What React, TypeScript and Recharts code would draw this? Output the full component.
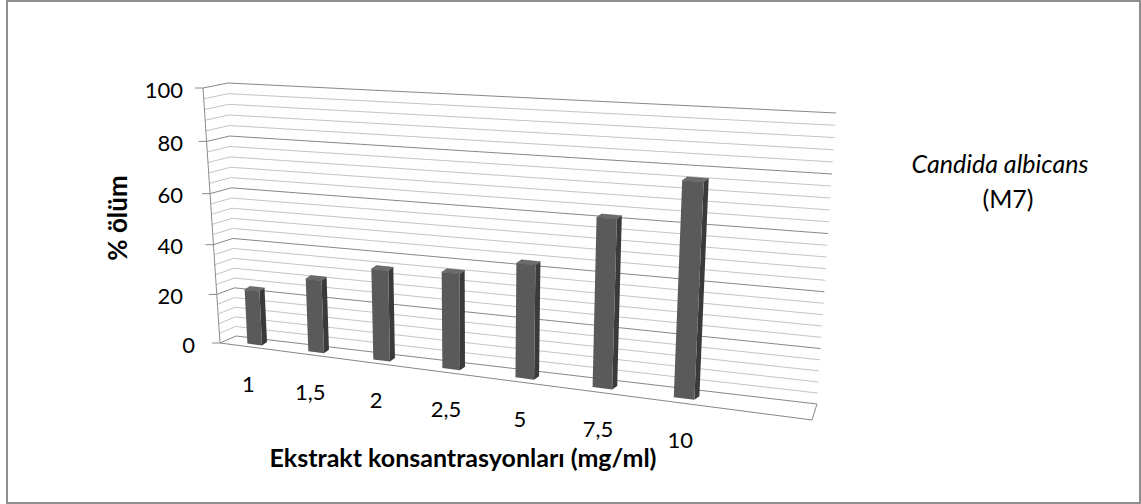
import React from 'react';
import { BarChart, Bar, XAxis, YAxis, CartesianGrid, Customized } from 'recharts';

// data
const konsantrasyonlar = ['1', '1,5', '2', '2,5', '5', '7,5', '10'];
const olumYuzdesi = [22, 29, 35.5, 37, 43, 62, 77];
const gridDegerleri = [0, 4, 8, 12, 16, 20, 24, 28, 32, 36, 40, 44, 48, 52, 56, 60, 64, 68, 72, 76, 80, 84, 88, 92, 96, 100];
const etiketDegerleri = [0, 20, 40, 60, 80, 100];

const data = konsantrasyonlar.map((k, i) => ({ konsantrasyon: k, olum: olumYuzdesi[i] }));

const W = 1141;
const H = 504;
const FONT = "Lato, 'Open Sans', sans-serif";

// flat plot box that recharts lays out; it gets warped into the excel-like 3d box below
const FLAT_LEFT = 232;
const FLAT_TOP = 83;
const FLAT_BOTTOM = 338;
const FLOOR_W = 585;
const SLOTS = 8; // the floor has room for one more (empty) category
const PLOT_W = (FLOOR_W * konsantrasyonlar.length) / SLOTS;
const Y_AXIS_W = 40;
const X_AXIS_H = 30;

type Pt = [number, number];
type Quad = { bl: Pt; br: Pt; tl: Pt; tr: Pt };
const BACK: Quad = { bl: [236, 336], br: [817, 404], tl: [228, 83], tr: [836, 113] };
const FRONT: Quad = { bl: [220, 343], br: [812, 420], tl: [203, 88], tr: [831, 123] };
const KU = 0.22; // horizontal foreshortening
const KV = 0.06; // vertical foreshortening
const BAR_D = 0.68; // depth of bar front faces (0 back wall, 1 front edge)
const BAR_OFF: Pt = [5, -3.5];

const quad = (q: Quad, u: number, v: number): Pt => [
  (1 - u) * (1 - v) * q.bl[0] + u * (1 - v) * q.br[0] + (1 - u) * v * q.tl[0] + u * v * q.tr[0],
  (1 - u) * (1 - v) * q.bl[1] + u * (1 - v) * q.br[1] + (1 - u) * v * q.tl[1] + u * v * q.tr[1],
];

function project(u: number, v: number, d: number): Pt {
  const gu = (1 - KU) * u + KU * u * u;
  const fv = (1 - KV) * v + KV * v * v;
  const b = quad(BACK, gu, fv);
  const f = quad(FRONT, gu, fv);
  return [b[0] + (f[0] - b[0]) * d, b[1] + (f[1] - b[1]) * d];
}

const flatU = (x: number) => (x - FLAT_LEFT) / FLOOR_W;
const flatV = (y: number) => (FLAT_BOTTOM - y) / (FLAT_BOTTOM - FLAT_TOP);
const pts = (arr: Pt[]) => arr.map((p) => `${p[0].toFixed(2)},${p[1].toFixed(2)}`).join(' ');
const shift = (p: Pt): Pt => [p[0] + BAR_OFF[0], p[1] + BAR_OFF[1]];

function Bar3D(props: any) {
  const { x, y, width, height } = props;
  if (!height || height <= 0) return <g />;
  const u0 = flatU(x);
  const u1 = flatU(x + width);
  const vt = flatV(y);
  const vb = flatV(y + height);
  const a = project(u0, vb, BAR_D);
  const b = project(u1, vb, BAR_D);
  const c = project(u1, vt, BAR_D);
  const e = project(u0, vt, BAR_D);
  return (
    <g>
      <polygon points={pts([b, c, shift(c), shift(b)])} fill="#3a3a3a" />
      <polygon points={pts([e, c, shift(c), shift(e)])} fill="#6c6c6c" stroke="#4a4a4a" strokeWidth={0.5} />
      <polygon points={pts([a, b, c, e])} fill="#5a5a5a" />
    </g>
  );
}

function GridLine(props: any) {
  const { y1 } = props;
  const v = flatV(y1);
  const value = Math.round(v * 100);
  const major = value % 20 === 0;
  const stroke = major ? '#878787' : '#c4c4c4';
  const front = project(0, v, 1);
  const back = project(0, v, 0);
  const right = project(1, v, 0);
  return (
    <g>
      <polyline points={pts([front, back, right])} fill="none" stroke={stroke} strokeWidth={1} />
      {value === 0 && (
        <polyline
          points={pts([project(0, 0, 1), project(1, 0, 1), project(1, 0, 0)])}
          fill="none"
          stroke="#878787"
          strokeWidth={1}
        />
      )}
    </g>
  );
}

function ValueTick(props: any) {
  const { y, payload } = props;
  if (!etiketDegerleri.includes(payload.value)) return <g />;
  const p = project(0, flatV(y), 1);
  // excel pushes the floor label a bit to the right
  const right = payload.value === 0 ? 195 : 183;
  return (
    <g>
      <line x1={p[0] - 8} y1={p[1]} x2={p[0]} y2={p[1]} stroke="#8c8c8c" strokeWidth={1} />
      <text x={right} y={p[1] + 2} dy="0.35em" textAnchor="end" fontFamily={FONT} fontSize={22} fill="#000">
        {payload.value}
      </text>
    </g>
  );
}

function CategoryTick(props: any) {
  const { x, payload } = props;
  const p = project(flatU(x), 0, 1);
  return (
    <text x={p[0] - 1} y={p[1] + 37} dy="0.35em" textAnchor="middle" fontFamily={FONT} fontSize={22} fill="#000">
      {payload.value}
    </text>
  );
}

function FrameLines() {
  const a = project(0, 0, 1);
  const b = project(0, 1, 1);
  return (
    <g>
      <line x1={a[0]} y1={a[1]} x2={b[0]} y2={b[1]} stroke="#8c8c8c" strokeWidth={1} />
      <text x={463} y={458} dy="0.35em" textAnchor="middle" fontFamily={FONT} fontWeight="bold" fontSize={25} fill="#000">
        Ekstrakt konsantrasyonları (mg/ml)
      </text>
      <text
        x={118}
        y={218}
        dy="0.35em"
        textAnchor="middle"
        transform="rotate(-90 118 218)"
        fontFamily={FONT}
        fontWeight="bold"
        fontSize={26}
        fill="#000"
      >
        % ölüm
      </text>
      <text x={1000} y={164} dy="0.35em" textAnchor="middle" fontFamily={FONT} fontStyle="italic" fontSize={25} fill="#000">
        Candida albicans
      </text>
      <text x={1008} y={199} dy="0.35em" textAnchor="middle" fontFamily={FONT} fontSize={25} fill="#000">
        (M7)
      </text>
    </g>
  );
}

export default function App() {
  return (
    <div style={{ position: 'absolute', left: 0, top: 0, width: W, height: H, background: '#fff' }}>
      <div
        style={{
          position: 'absolute',
          left: 6,
          top: 0,
          width: W - 6,
          height: H,
          border: '2px solid #8e8e8e',
          boxSizing: 'border-box',
        }}
      />
      <div style={{ position: 'absolute', left: 0, top: 0 }}>
        <BarChart
          width={W}
          height={H}
          data={data}
          margin={{
            top: FLAT_TOP,
            left: FLAT_LEFT - Y_AXIS_W,
            right: W - FLAT_LEFT - PLOT_W,
            bottom: H - FLAT_BOTTOM - X_AXIS_H,
          }}
        >
          <CartesianGrid vertical={false} horizontal={GridLine} />
          <XAxis
            dataKey="konsantrasyon"
            height={X_AXIS_H}
            axisLine={false}
            tickLine={false}
            interval={0}
            tick={CategoryTick}
          />
          <YAxis
            domain={[0, 100]}
            ticks={gridDegerleri}
            width={Y_AXIS_W}
            axisLine={false}
            tickLine={false}
            interval={0}
            tick={ValueTick}
          />
          <Customized component={FrameLines} />
          <Bar dataKey="olum" barSize={18} shape={Bar3D} isAnimationActive={false} />
        </BarChart>
      </div>
    </div>
  );
}
